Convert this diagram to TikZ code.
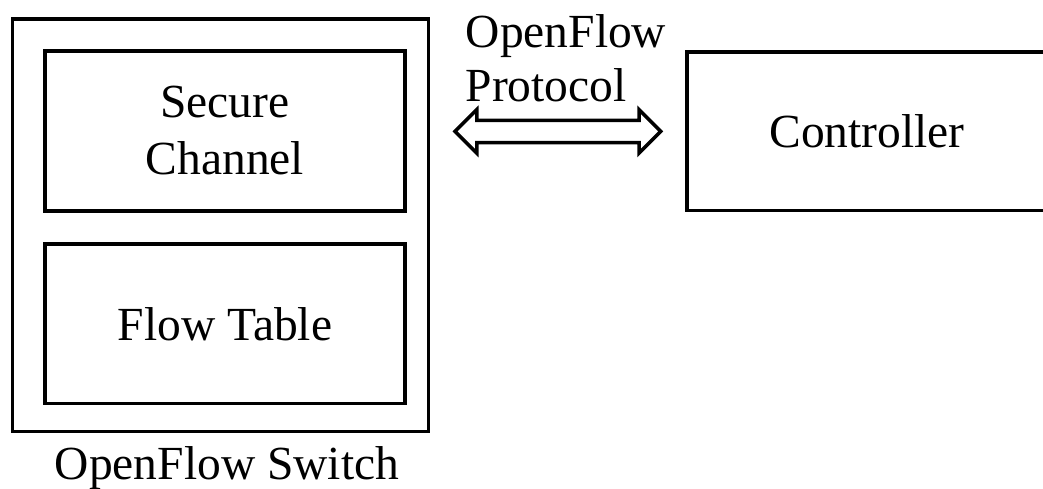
\documentclass[tikz,border=0pt]{standalone}
\usepackage{fontspec}
\setmainfont{Liberation Serif}
\usetikzlibrary{shapes.arrows}
\begin{document}
\begin{tikzpicture}[x=1pt,y=-1pt,
  box/.style={draw, line width=3.5pt, inner sep=0pt, outer sep=0pt},
  lbl/.style={font=\fontsize{47.5}{57}\selectfont, inner sep=0pt}]
\clip (0,0) rectangle (1043,488);
\node[box, minimum width=416pt, minimum height=412.5pt] (switch) at (220.5,225.25) {};
\node[box, lbl, minimum width=360pt, minimum height=160pt, align=center] (secure) at (225,131) {Secure\\Channel};
\node[box, lbl, minimum width=360pt, minimum height=159.5pt] (flow) at (225,323.75) {Flow Table};
\node[box, lbl, minimum width=360pt, minimum height=158.5pt] (ctrl) at (867,131.25) {Controller};
\node[lbl, anchor=base] (swlabel) at (227,479.5) {OpenFlow Switch};
\node[font=\fontsize{47.5}{54}\selectfont, inner sep=0pt, align=left, anchor=north west] (protolbl) at (465.5,14) {OpenFlow\\Protocol};
\node[double arrow, draw, line width=3.5pt, minimum height=205.7pt, inner xsep=0pt, inner ysep=9.4pt, double arrow head extend=10.6pt, double arrow tip angle=90] (proto) at (557.9,131.4) {};
\end{tikzpicture}
\end{document}
